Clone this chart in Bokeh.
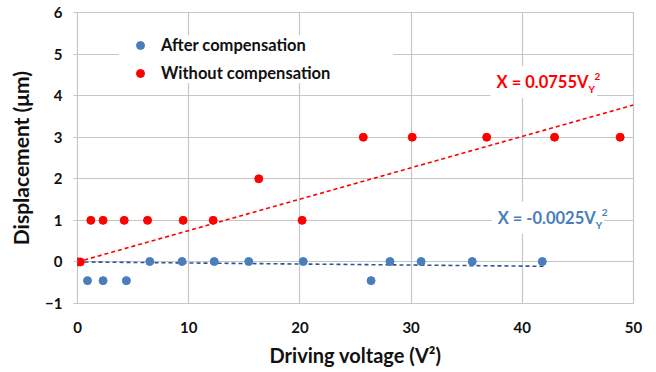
from bokeh.plotting import figure
from bokeh.models import Range1d, Label, Legend, LegendItem, FixedTicker
from bokeh.embed import file_html
from bokeh.resources import INLINE

# Data
after_x = [0.0, 0.9, 2.3, 4.4, 6.5, 9.4, 12.3, 15.4, 20.3, 26.4, 28.1, 30.9, 35.5, 41.8]
after_y = [0.0, -0.45, -0.45, -0.45, 0.01, 0.01, 0.01, 0.01, 0.01, -0.45, 0.01, 0.01, 0.01, 0.01]
without_x = [0.0, 0.25, 1.2, 2.3, 4.2, 6.3, 9.5, 12.2, 16.3, 20.2, 25.7, 30.1, 36.8, 42.9, 48.8]
without_y = [0, 0, 1, 1, 1, 1, 1, 1, 2, 1, 3, 3, 3, 3, 3]
slope_without = 0.0755
slope_after = -0.0025
fit_without_x = [0, 50]
fit_after_x = [0, 42]
x_ticks = [0, 10, 20, 30, 40, 50]
y_ticks = [-1, 0, 1, 2, 3, 4, 5, 6]

BLUE = "#4a7ebb"
BLUE_LINE = "#2f5597"
RED = "#ff0000"
GRID = "#c6c6c6"
FONT = "Lato"

p = figure(width=656, height=372, output_backend="svg", toolbar_location=None,
           x_range=Range1d(0, 50), y_range=Range1d(-1, 6),
           min_border_left=77, min_border_right=23, min_border_top=12, min_border_bottom=69)
p.background_fill_color = "white"
p.border_fill_color = "white"
p.outline_line_color = GRID
p.outline_line_width = 1.2

p.xgrid.grid_line_color = GRID
p.ygrid.grid_line_color = GRID
p.xgrid.grid_line_width = 1.2
p.ygrid.grid_line_width = 1.2
p.xaxis.ticker = FixedTicker(ticks=x_ticks)
p.yaxis.ticker = FixedTicker(ticks=y_ticks)

for ax in (p.xaxis[0], p.yaxis[0]):
    ax.axis_line_color = None
    ax.major_label_text_font = FONT
    ax.major_label_text_font_style = "bold"
    ax.major_label_text_font_size = "15px"
    ax.major_label_text_color = "#111111"
    ax.axis_label_text_font = FONT
    ax.axis_label_text_font_style = "bold"
    ax.axis_label_text_font_size = "20px"
    ax.axis_label_text_color = "#111111"
    ax.minor_tick_line_color = None

p.xaxis.major_tick_line_color = None
p.xaxis.major_label_standoff = 12
p.xaxis.axis_label = "Driving voltage (V²)"
p.xaxis.axis_label_standoff = 7
p.yaxis.major_tick_line_color = GRID
p.yaxis.major_tick_out = 4
p.yaxis.major_tick_in = 0
p.yaxis.major_label_standoff = 11
p.yaxis.axis_label = "Displacement (μm)"
p.yaxis.axis_label_text_font_size = "21px"
p.yaxis.axis_label_standoff = 9

# trend lines
p.line(fit_without_x, [slope_without * x for x in fit_without_x], line_color=RED,
       line_width=1.6, line_dash="4 3")
p.line(fit_after_x, [slope_after * x for x in fit_after_x], line_color=BLUE_LINE,
       line_width=1.6, line_dash="4 3")

r_after = p.scatter(after_x, after_y, size=8, color=BLUE)
r_without = p.scatter(without_x, without_y, size=8, color=RED)

legend = Legend(items=[LegendItem(label="After compensation", renderers=[r_after]),
                       LegendItem(label="Without compensation", renderers=[r_without])],
                location=(42, 220), margin=0, padding=3, spacing=8,
                label_height=20, glyph_height=20, glyph_width=42, label_standoff=0,
                label_width=232,
                label_text_font=FONT, label_text_font_style="bold",
                label_text_font_size="16.5px", label_text_color="#111111",
                background_fill_color="white", background_fill_alpha=1.0,
                border_line_color=None)
p.add_layout(legend)


def eq_label(x, y, main, color):
    common = dict(text_font=FONT, text_font_style="bold", text_color=color,
                  background_fill_color="white", background_fill_alpha=1.0)
    p.add_layout(Label(x=x, y=y, text=main, text_align="right", text_baseline="middle",
                       text_font_size="16.5px", padding=6, x_offset=6, **common))
    p.add_layout(Label(x=x, y=y, text="Y", text_align="left", text_baseline="middle",
                       text_font_size="10px", y_offset=-7, x_offset=-2, padding=2, **common))
    p.add_layout(Label(x=x, y=y, text="2", text_align="left", text_baseline="middle",
                       text_font_size="10px", y_offset=5, x_offset=4, padding=2, **common))


eq_label(45.95, 4.33, "X = 0.0755V", RED)
eq_label(46.6, 1.06, "X = -0.0025V", BLUE)

with open("out.html", "w") as f:
    f.write(file_html(p, INLINE))
